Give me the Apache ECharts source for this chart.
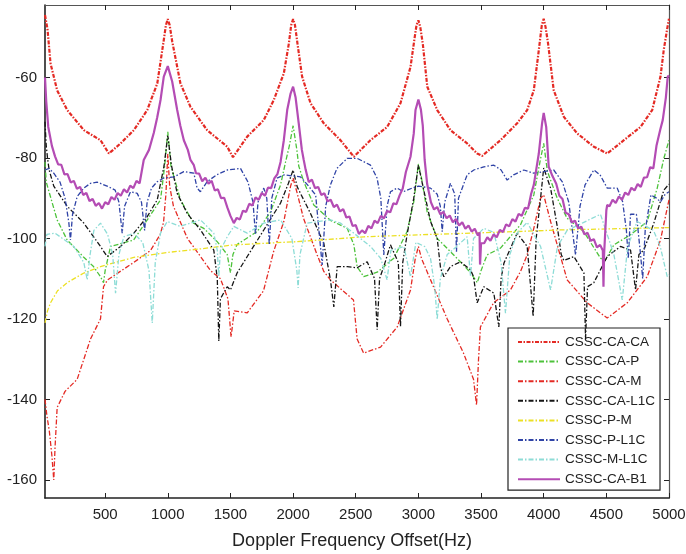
<!DOCTYPE html>
<html>
<head>
<meta charset="utf-8">
<script src="https://cdn.jsdelivr.net/npm/echarts@6/dist/echarts.min.js"></script>
<style>
html,body{margin:0;padding:0;background:#fff;}
#chart{width:686px;height:554px;}
</style>
</head>
<body>
<div id="chart"></div>
<script>
// Doppler frequency offset (Hz) ticks and correlation levels (dB)
const xTicks = [500, 1000, 1500, 2000, 2500, 3000, 3500, 4000, 4500, 5000];
const yTicks = [-160, -140, -120, -100, -80, -60];
const seriesNames = ['CSSC-CA-CA', 'CSSC-CA-P', 'CSSC-CA-M', 'CSSC-CA-L1C', 'CSSC-P-M', 'CSSC-P-L1C', 'CSSC-M-L1C', 'CSSC-CA-B1'];

const caCa = [[20,-44.5],[40,-48],[64,-56.5],[117,-63.2],[197,-68.1],[330,-73.1],[463,-75.6],[530,-78.9],[623,-76.4],[729,-73.1],[836,-68.1],[916,-61.5],[968,-50.7],[985,-47],[1000,-45.5],[1015,-47],[1035,-51],[1101,-61.5],[1181,-67.3],[1314,-73.1],[1474,-77.2],[1520,-79.8],[1634,-74.7],[1766,-70.6],[1846,-65.6],[1926,-59],[1966,-51.6],[1985,-47],[2000,-45.5],[2015,-47],[2035,-51.6],[2072,-59.8],[2139,-66.4],[2245,-71.4],[2378,-75.6],[2485,-79.7],[2617,-75.6],[2751,-72.3],[2857,-66.4],[2937,-57.4],[2971,-49.9],[2985,-47],[3000,-45.8],[3015,-47.5],[3035,-51.6],[3071,-62.3],[3150,-68.1],[3256,-73.1],[3389,-76.4],[3469,-78.9],[3509,-79.5],[3655,-75.6],[3788,-71.4],[3868,-68.1],[3921,-63.2],[3961,-53.2],[3985,-47],[4000,-45.4],[4015,-47.5],[4035,-51.6],[4080,-63.2],[4161,-69.8],[4267,-73.9],[4400,-77.2],[4507,-78.9],[4640,-75.6],[4773,-72.3],[4866,-68.1],[4932,-59.8],[4958,-53.2],[4985,-48],[5000,-45.4]];

const caP = [[20,-81],[30,-86],[117,-95.4],[197,-100.4],[327,-104.6],[407,-107],[463,-109.5],[487,-111],[500,-108],[543,-102],[727,-100.4],[836,-95.4],[942,-90.4],[975,-82],[1000,-73.5],[1025,-82],[1101,-90.4],[1205,-96.2],[1287,-97.5],[1394,-100.8],[1474,-104],[1500,-108.5],[1520,-104],[1553,-101.5],[1713,-98.3],[1820,-93.4],[1900,-86.7],[1940,-81],[1970,-77],[2000,-72],[2030,-78],[2045,-82],[2085,-85.9],[2165,-91.7],[2298,-95.5],[2432,-97.5],[2485,-101.6],[2511,-107],[2563,-109.5],[2671,-108.4],[2804,-104.9],[2910,-98.3],[2963,-90.9],[3000,-81.5],[3025,-85],[3070,-93.4],[3150,-100],[3256,-103.3],[3360,-106.6],[3416,-108.5],[3470,-111],[3500,-108],[3548,-104.1],[3655,-102.4],[3815,-96.6],[3921,-89.2],[3970,-81],[4000,-76.4],[4030,-83.4],[4108,-90],[4187,-95],[4320,-98.3],[4453,-104.9],[4490,-105.5],[4560,-101.6],[4693,-99.1],[4826,-95.8],[4906,-87.5],[4959,-80.1],[5000,-75.6]];

const caM = [[20,-140],[35,-144],[55,-148],[75,-154],[90,-160],[100,-152],[117,-142],[180,-138],[277,-135],[383,-125],[463,-120],[487,-112],[519,-110.3],[727,-106],[862,-103],[940,-99],[966,-96],[985,-89],[1000,-79],[1015,-87],[1045,-92],[1157,-100],[1261,-104.5],[1341,-108],[1420,-110],[1480,-115],[1505,-124.5],[1530,-118],[1634,-118.5],[1764,-113],[1844,-103.3],[1926,-95.8],[1980,-87],[2000,-85],[2033,-88.8],[2083,-95],[2192,-104.1],[2245,-108.2],[2298,-110.3],[2482,-115.3],[2511,-125],[2563,-128.5],[2698,-127],[2831,-122],[2937,-112.8],[2975,-105],[3000,-102],[3025,-105],[3097,-110.3],[3230,-120],[3360,-128.5],[3440,-135],[3464,-141.4],[3480,-130],[3495,-122],[3600,-116],[3735,-112.8],[3815,-108.2],[3868,-104.1],[3921,-97.5],[3975,-90],[4000,-89.2],[4055,-95.8],[4108,-101.6],[4161,-107.4],[4187,-110.3],[4347,-116],[4507,-119.8],[4667,-116],[4826,-109.5],[4932,-100.4],[5000,-90.4]];

const caL1c = [[20,-71],[30,-77],[40,-80],[53,-83],[90,-87],[197,-92],[330,-96.2],[463,-102],[516,-104.5],[623,-102],[729,-98.7],[836,-94.6],[916,-90.4],[970,-82],[1000,-74.5],[1030,-82],[1075,-88.8],[1155,-93.8],[1261,-97.9],[1367,-102.9],[1395,-110],[1407,-125.5],[1420,-115],[1474,-112],[1500,-112.8],[1553,-108.6],[1634,-104.5],[1766,-97.9],[1900,-91.2],[1963,-86.3],[2000,-83],[2033,-87.2],[2139,-93.8],[2245,-101.2],[2298,-110.3],[2325,-117],[2352,-107],[2432,-107],[2511,-107.3],[2591,-105.8],[2650,-110],[2671,-122.7],[2690,-110],[2724,-107],[2777,-101.6],[2840,-106],[2857,-121.9],[2875,-106],[2910,-99],[2963,-90],[3000,-81.8],[3043,-88],[3097,-95.8],[3150,-100],[3177,-107.4],[3203,-109.5],[3256,-107],[3336,-105.8],[3416,-107.8],[3440,-109.5],[3469,-116],[3522,-112],[3602,-113.6],[3642,-122],[3660,-110],[3682,-106.2],[3788,-98.7],[3868,-102],[3916,-119.4],[3940,-100],[3975,-90],[4000,-82.5],[4055,-87.5],[4108,-97],[4140,-104],[4161,-105.5],[4241,-104.5],[4321,-108.6],[4334,-125],[4350,-112],[4400,-111],[4507,-104.5],[4613,-102],[4693,-102.9],[4733,-112.8],[4760,-104],[4799,-102.9],[4879,-96.2],[4959,-88],[5000,-86.5]];

const pM = [[20,-121],[40,-118],[64,-116],[120,-113],[197,-111],[330,-108.6],[463,-107],[729,-104.7],[995,-103.5],[1261,-102.6],[1527,-101.6],[2033,-100.8],[2564,-99.6],[3097,-99],[3416,-98.7],[4134,-97.9],[5000,-97.3]];

const pL1c = [[20,-83],[53,-82.6],[90,-83.8],[140,-86],[180,-90],[210,-96],[223,-100.4],[240,-94],[277,-89.6],[330,-87.5],[383,-86.3],[436,-86],[516,-87],[580,-88],[610,-91],[636,-98.7],[655,-92],[702,-88.4],[756,-88.8],[790,-91],[815,-98],[835,-91],[870,-87.5],[916,-85.9],[969,-85],[1050,-84.7],[1128,-83.4],[1208,-83.8],[1234,-87.5],[1260,-88.4],[1314,-85.9],[1390,-84.2],[1474,-83],[1580,-82.6],[1640,-86],[1680,-91],[1700,-99.1],[1720,-91],[1766,-87.5],[1790,-90],[1810,-101.6],[1830,-90],[1872,-85],[1930,-84.2],[2000,-84.5],[2059,-84.7],[2110,-86.5],[2180,-89.2],[2232,-106.6],[2260,-92],[2298,-86.7],[2350,-82.6],[2432,-80.1],[2511,-80.1],[2618,-81.8],[2670,-85],[2700,-90],[2724,-104.1],[2750,-92],[2777,-88.4],[2830,-87.5],[2880,-88.4],[2950,-87.5],[3000,-87],[3097,-87.5],[3150,-89],[3175,-92],[3190,-98.3],[3210,-91],[3256,-86.3],[3290,-89],[3304,-103.3],[3320,-90],[3389,-84.2],[3442,-83],[3522,-82.2],[3602,-81.8],[3660,-83],[3708,-85.5],[3760,-84.2],[3841,-83],[3920,-83.8],[4000,-83.4],[4080,-83],[4150,-86],[4200,-91],[4254,-104.1],[4290,-92],[4330,-86.7],[4400,-83],[4450,-84.2],[4507,-87.5],[4587,-87.5],[4630,-90.9],[4660,-98],[4675,-105],[4693,-94],[4740,-94],[4773,-104],[4790,-110],[4810,-98],[4856,-89.2],[4900,-90],[4932,-90.9],[4970,-89],[5000,-88.4]];

const mL1c = [[20,-102],[35,-99],[50,-98.7],[100,-98.7],[250,-102],[330,-106],[357,-110.3],[380,-104],[410,-98],[463,-96.2],[520,-99],[560,-104],[583,-113.6],[610,-104],[649,-99.6],[729,-98.7],[800,-101],[850,-108],[876,-121],[900,-106],[942,-98.7],[995,-95.8],[1100,-97],[1261,-95.4],[1367,-98.7],[1395,-103],[1407,-109.5],[1420,-103],[1474,-99.6],[1527,-97],[1634,-98.7],[1766,-96.2],[1900,-95.4],[1990,-100],[2030,-108],[2040,-112.3],[2055,-104],[2112,-96.2],[2298,-95.4],[2378,-96.2],[2485,-98.7],[2618,-102],[2700,-105],[2750,-110.3],[2780,-103],[2884,-102],[2937,-109.5],[2980,-101],[3050,-102],[3097,-105],[3130,-112],[3150,-120.2],[3175,-110],[3230,-104],[3305,-102],[3389,-99.6],[3416,-109.5],[3440,-100],[3522,-97.5],[3602,-98.5],[3660,-106],[3695,-118.6],[3730,-104],[3788,-98.7],[3868,-96],[3975,-102],[4055,-112.8],[4110,-102],[4187,-98],[4320,-96],[4453,-94],[4560,-104],[4627,-115.3],[4670,-102],[4746,-95.8],[4876,-98],[4930,-102],[4986,-109.5],[5000,-109]];

// CSSC-CA-B1 with its visible ripple, read tooth by tooth
const caB1 = [[20,-60],[30,-66],[46,-72.3],[75,-77],[100,-79.6],[125,-81.6],[150,-81.7],[175,-84.1],[200,-84.0],[225,-86.1],[250,-85.7],[275,-87.7],[300,-87.2],[325,-89.2],[350,-88.7],[375,-90.7],[400,-90.2],[425,-91.9],[450,-91.2],[475,-92.6],[500,-91.0],[525,-91.5],[550,-89.7],[575,-90.4],[600,-88.7],[625,-89.4],[650,-87.8],[675,-88.6],[700,-86.9],[725,-87.5],[750,-85.7],[775,-86.3],[808,-80.5],[850,-78],[888,-73.8],[915,-70],[942,-65.6],[968,-59.8],[1000,-57.2],[1035,-61],[1075,-68.1],[1100,-72],[1128,-75.6],[1160,-78],[1181,-80.5],[1208,-81.8],[1225,-83.8],[1250,-83.9],[1275,-85.8],[1300,-84.9],[1325,-86.4],[1350,-85.7],[1375,-88.1],[1400,-87.8],[1425,-90.0],[1450,-89.9],[1475,-92.3],[1500,-94.4],[1527,-96.2],[1550,-94.9],[1575,-95.3],[1600,-93.1],[1625,-93.4],[1650,-91.4],[1675,-91.8],[1700,-89.8],[1725,-90.4],[1750,-88.7],[1775,-89.4],[1800,-87.4],[1825,-87.5],[1850,-85.1],[1875,-84.0],[1900,-81],[1926,-75.6],[1953,-68.1],[1980,-64],[2000,-62.3],[2020,-65],[2045,-71.4],[2070,-78],[2085,-80.5],[2100,-82.9],[2125,-86.0],[2150,-85.4],[2175,-87.5],[2200,-87.2],[2225,-89.2],[2250,-88.8],[2275,-90.8],[2300,-90.4],[2325,-92.2],[2350,-91.6],[2375,-93.3],[2400,-92.7],[2425,-94.8],[2450,-94.6],[2475,-96.9],[2500,-96.7],[2525,-98.9],[2550,-98.0],[2575,-98.7],[2600,-96.9],[2625,-97.5],[2650,-95.6],[2675,-96.2],[2700,-94.4],[2725,-95.0],[2750,-93.2],[2775,-93.5],[2800,-91.3],[2825,-91.5],[2850,-89.3],[2875,-87.6],[2900,-83.5],[2937,-79.7],[2963,-73.9],[2977,-68.1],[3000,-65.5],[3020,-68],[3035,-72],[3050,-80.5],[3070,-86.5],[3100,-91.0],[3125,-92.8],[3150,-92.2],[3175,-94.0],[3200,-93.4],[3225,-95.0],[3250,-94.3],[3275,-96.0],[3300,-95.2],[3325,-96.8],[3350,-96.0],[3375,-97.6],[3400,-96.8],[3425,-98.3],[3450,-97.6],[3475,-99.3],[3488,-98.5],[3492,-106.5],[3500,-101.2],[3525,-101.2],[3550,-99.7],[3575,-100.6],[3600,-99.0],[3625,-99.7],[3650,-97.9],[3675,-98.4],[3700,-96.5],[3725,-97.0],[3750,-95.2],[3775,-95.8],[3800,-93.9],[3825,-94.4],[3850,-92.4],[3875,-92.6],[3900,-88.9],[3921,-86.7],[3961,-78.9],[3987,-71.4],[4000,-68.8],[4020,-72.3],[4040,-82.2],[4070,-84.5],[4100,-86.4],[4125,-89.4],[4150,-90.2],[4175,-93.6],[4200,-94.0],[4225,-96.0],[4250,-95.6],[4275,-97.5],[4300,-97.1],[4325,-99.0],[4350,-98.6],[4375,-100.6],[4400,-100.2],[4425,-102.2],[4450,-101.6],[4472,-103],[4477,-112],[4482,-104],[4500,-93],[4507,-91.7],[4525,-92.0],[4550,-90.4],[4575,-91.2],[4600,-89.6],[4625,-90.4],[4650,-88.6],[4675,-89.2],[4700,-87.4],[4725,-88.1],[4750,-86.5],[4775,-87.2],[4800,-84.9],[4825,-84.8],[4850,-82.3],[4875,-82.6],[4900,-77],[4930,-73],[4950,-70.6],[4975,-65],[4990,-59.8],[5000,-59.5]];

const seriesData = [caCa, caP, caM, caL1c, pM, pL1c, mL1c, caB1];
const colors = ['#e42a24', '#4cc23a', '#e42a24', '#151515', '#ece024', '#2f43a6', '#8ddcd6', '#b44cb4'];

const FONT = "'Liberation Sans', Arial, Helvetica, sans-serif";
const chart = echarts.init(document.getElementById('chart'), null, {renderer: 'canvas'});

const series = seriesNames.map((name, i) => ({
  name: name,
  type: 'line',
  data: seriesData[i],
  symbol: 'none',
  smooth: false,
  xAxisIndex: 0,
  yAxisIndex: 0,
  lineStyle: i === 7
    ? {color: colors[i], width: 2.2, type: 'solid'}
    : (i === 0
      ? {color: colors[i], width: 2.2, type: [4, 1.5, 1.5, 1.5]}
      : {color: colors[i], width: 1.3, type: [5, 2, 1.5, 2]}),
  itemStyle: {color: colors[i]},
  emphasis: {disabled: true},
  z: 2 + i
}));

const xCommon = {
  type: 'value', min: 20, max: 5000,
  splitLine: {show: false},
  axisTick: {show: true, inside: true, length: 5, customValues: xTicks, lineStyle: {color: '#222', width: 1}},
};
const yCommon = {
  type: 'value', min: -164.5, max: -42,
  splitLine: {show: false},
  axisTick: {show: true, inside: true, length: 5, customValues: yTicks, lineStyle: {color: '#222', width: 1}},
};

chart.setOption({
  animation: false,
  backgroundColor: '#ffffff',
  textStyle: {fontFamily: FONT},
  grid: {left: 45, right: 17, top: 5, bottom: 56, containLabel: false, outerBoundsMode: 'none'},
  legend: {
    data: seriesNames,
    orient: 'vertical',
    left: 508, top: 328,
    itemWidth: 42, itemHeight: 14, itemGap: 5.6,
    padding: [7, 5, 4, 9],
    backgroundColor: '#ffffff',
    borderColor: '#222', borderWidth: 1.2,
    itemStyle: {opacity: 0},
    textStyle: {fontSize: 13.5, color: '#222', fontFamily: FONT},
    selectedMode: false
  },
  xAxis: [
    Object.assign({}, xCommon, {
      position: 'bottom',
      axisLine: {show: true, onZero: false, lineStyle: {color: '#222', width: 1.6}},
      axisLabel: {show: true, customValues: xTicks, formatter: v => String(v), fontSize: 15, color: '#222', margin: 9, fontFamily: FONT},
      name: 'Doppler Frequency Offset(Hz)',
      nameLocation: 'middle', nameGap: 34,
      nameTextStyle: {fontSize: 18, color: '#222', fontFamily: FONT, padding: [0, 10, 0, 0]}
    }),
    Object.assign({}, xCommon, {
      position: 'top',
      axisLine: {show: true, onZero: false, lineStyle: {color: '#555', width: 1.2}},
      axisLabel: {show: false}
    })
  ],
  yAxis: [
    Object.assign({}, yCommon, {
      position: 'left',
      axisLine: {show: true, onZero: false, lineStyle: {color: '#222', width: 1.6}},
      axisLabel: {show: true, customValues: yTicks, formatter: v => String(v), fontSize: 15, color: '#222', margin: 8, fontFamily: FONT}
    }),
    Object.assign({}, yCommon, {
      position: 'right',
      axisLine: {show: true, onZero: false, lineStyle: {color: '#555', width: 1.2}},
      axisLabel: {show: false}
    })
  ],
  series: series
});
</script>
</body>
</html>
